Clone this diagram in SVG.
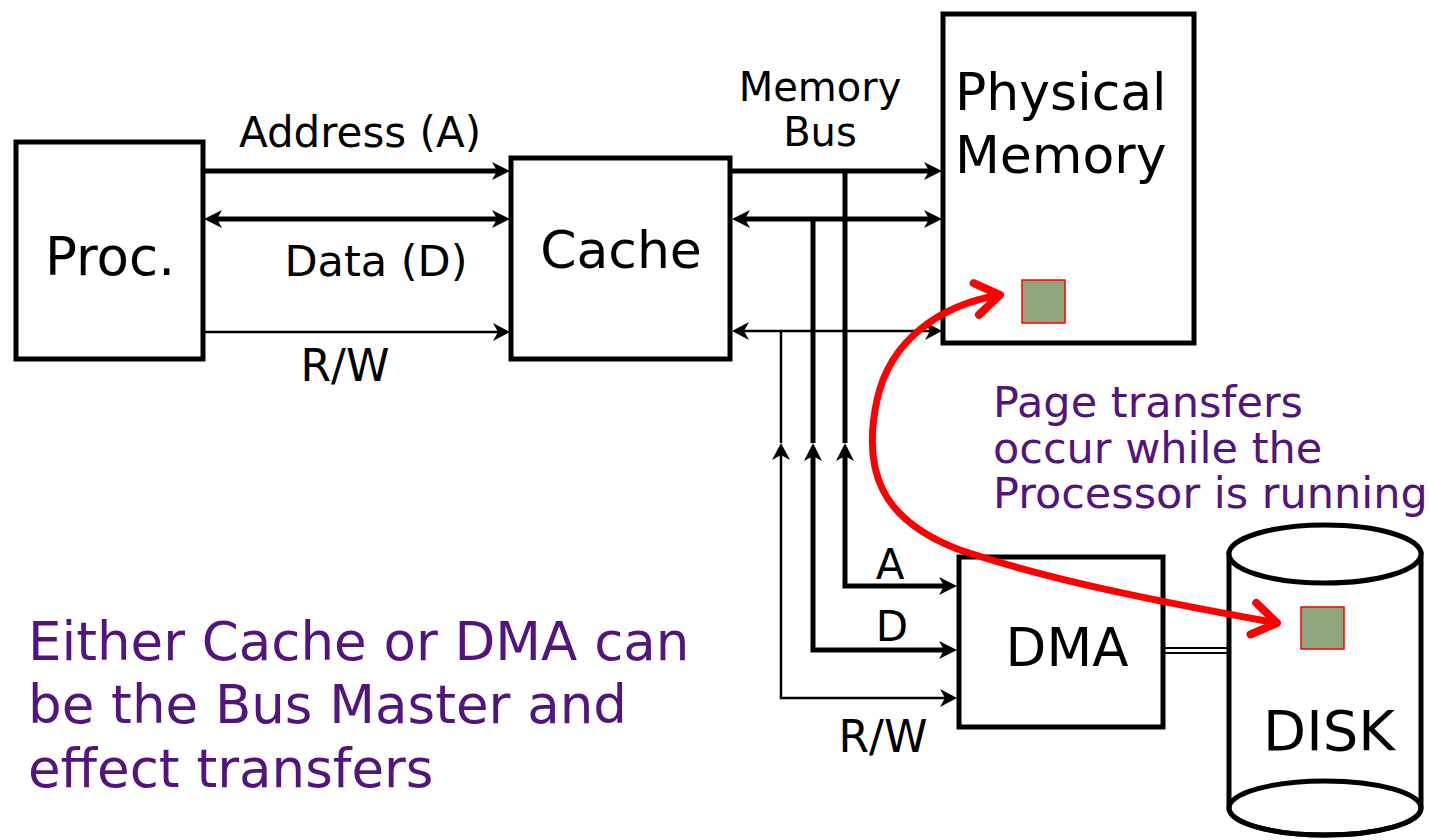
<svg xmlns="http://www.w3.org/2000/svg" width="1429" height="840" viewBox="0 0 1429 840">
<style>
.box{fill:#fff;stroke:#000;stroke-width:5}
.t{font-family:"DejaVu Sans","Liberation Sans",sans-serif;fill:#000}
.p{font-family:"DejaVu Sans","Liberation Sans",sans-serif;fill:#52147e}
.thick{fill:none;stroke:#000;stroke-width:5}
.thin{fill:none;stroke:#000;stroke-width:2.5}
.blk{fill:#8fa57b;stroke:#ff0000;stroke-width:1.5}
</style>
<defs>
<marker id="ah" markerUnits="userSpaceOnUse" markerWidth="40" markerHeight="40" viewBox="-20 -20 40 40" refX="0" refY="0" orient="auto-start-reverse"><path d="M9 0 L-9 -9 L-4 0 L-9 9 Z" fill="#000"/></marker>
<marker id="ahs" markerUnits="userSpaceOnUse" markerWidth="40" markerHeight="40" viewBox="-20 -20 40 40" refX="0" refY="0" orient="auto-start-reverse"><path d="M8 0 L-9 -9 L-4 0 L-9 9 Z" fill="#000"/></marker>
<marker id="rh" markerUnits="userSpaceOnUse" markerWidth="60" markerHeight="60" viewBox="-30 -30 60 60" refX="0" refY="0" orient="auto-start-reverse"><path d="M-24 -16 L0 0 L-24 16" fill="none" stroke="#ff0000" stroke-width="8" stroke-linecap="round" stroke-linejoin="round"/></marker>
</defs>

<g id="proc"><rect class="box" x="16" y="142" width="187" height="217"/><text class="t" x="110" y="275" font-size="53" text-anchor="middle">Proc.</text></g>
<g id="cache"><rect class="box" x="511" y="158" width="219" height="201"/><text class="t" x="621" y="268" font-size="52" text-anchor="middle">Cache</text></g>
<g id="memory"><rect class="box" x="943" y="14" width="251" height="329"/><text class="t" x="955" y="110" font-size="52">Physical</text><text class="t" x="955" y="173" font-size="52">Memory</text><rect class="blk" x="1022" y="280" width="43" height="43"/></g>
<g id="dma"><rect class="box" x="959" y="557" width="204" height="170"/><text class="t" x="1067" y="666" font-size="53" text-anchor="middle">DMA</text></g>
<g id="disk"><path d="M1229 554 V808 A96 27 0 0 0 1421 808 V554 Z" fill="#fff" stroke="#000" stroke-width="5"/><ellipse cx="1325" cy="554" rx="96" ry="29" fill="#fff" stroke="#000" stroke-width="5"/><ellipse cx="1325" cy="808" rx="96" ry="27" fill="none" stroke="#000" stroke-width="5"/><text class="t" x="1329" y="750" font-size="56" text-anchor="middle">DISK</text><rect class="blk" x="1301" y="607" width="43" height="42"/></g>

<g id="connectors">
<path class="thick" d="M205 171 H501" marker-end="url(#ah)"/>
<path class="thick" d="M213 219 H501" marker-start="url(#ah)" marker-end="url(#ah)"/>
<path class="thin" d="M205 332 H502" marker-end="url(#ahs)"/>
<path class="thick" d="M731 171 H933" marker-end="url(#ah)"/>
<path class="thick" d="M741 219 H933" marker-start="url(#ah)" marker-end="url(#ah)"/>
<path class="thin" d="M740 331 H934" marker-start="url(#ahs)" marker-end="url(#ahs)"/>
<path class="thick" d="M845 171 V443"/>
<path class="thick" d="M813 219 V443"/>
<path class="thin" d="M781 331 V443"/>
<path class="thick" d="M845 452 V586 H948" marker-start="url(#ah)" marker-end="url(#ah)"/>
<path class="thick" d="M813 452 V650 H948" marker-start="url(#ah)" marker-end="url(#ah)"/>
<path class="thin" d="M781 451 V698 H949" marker-start="url(#ahs)" marker-end="url(#ahs)"/>
<path d="M1163 648 H1229 M1163 653 H1229" stroke="#000" stroke-width="2" fill="none"/>
<path d="M1000 295 C940 305 890 340 877 400 C862 470 880 520 960 550 C1050 580 1150 600 1277 623" fill="none" stroke="#ff0000" stroke-width="7" stroke-linecap="round" marker-start="url(#rh)" marker-end="url(#rh)"/>
</g>

<g id="labels">
<text class="t" x="360" y="147" font-size="42" text-anchor="middle">Address (A)</text>
<text class="t" x="376" y="276" font-size="43" text-anchor="middle">Data (D)</text>
<text class="t" x="345" y="381" font-size="44" text-anchor="middle">R/W</text>
<text class="t" x="820" y="101" font-size="40" text-anchor="middle">Memory</text>
<text class="t" x="820" y="146" font-size="40" text-anchor="middle">Bus</text>
<text class="t" x="890" y="579" font-size="42" text-anchor="middle">A</text>
<text class="t" x="892" y="641" font-size="42" text-anchor="middle">D</text>
<text class="t" x="883" y="752" font-size="44" text-anchor="middle">R/W</text>
<text class="p" x="993" y="417" font-size="43">Page transfers</text>
<text class="p" x="993" y="463" font-size="43">occur while the</text>
<text class="p" x="993" y="508" font-size="43">Processor is running</text>
<text class="p" x="28" y="660" font-size="53">Either Cache or DMA can</text>
<text class="p" x="28" y="723" font-size="53">be the Bus Master and</text>
<text class="p" x="28" y="787" font-size="53">effect transfers</text>
</g>
</svg>
